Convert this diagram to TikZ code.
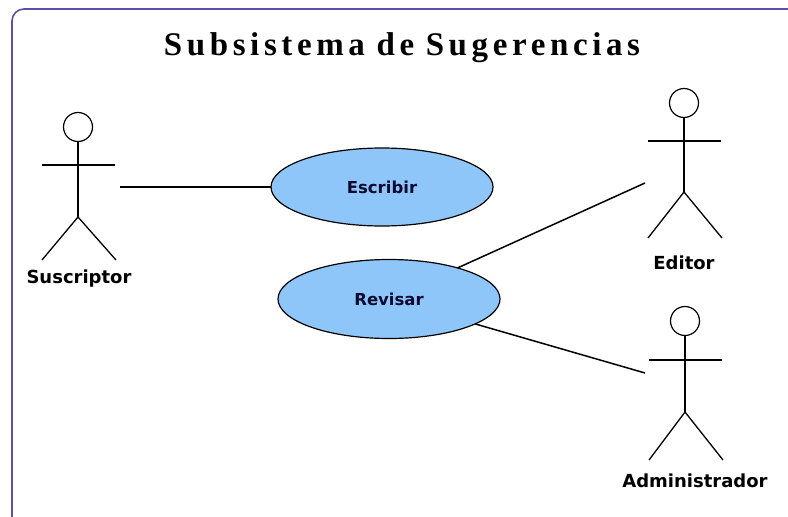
\documentclass[tikz,border=0pt]{standalone}
\usepackage{fontspec}
\setmainfont{DejaVu Sans}
\newfontfamily\titlefont[LetterSpace=14,WordSpace=0.9]{Liberation Serif}
\usetikzlibrary{
	shapes,
	calc}
\definecolor{framecolor}{HTML}{5B50A8}
\definecolor{usecasecolor}{HTML}{8FC6FA}
\definecolor{labelcolor}{HTML}{0A0A30}

\begin{document}
\begin{tikzpicture}[x=1pt,y=-1pt,every text node part/.style={align=center}]
		\tikzstyle{usecase}=[ellipse,draw,fill=usecasecolor,line width=1.2pt,
							inner sep=0pt, outer sep=0pt,text=labelcolor,
							font=\bfseries\fontsize{16.5}{18}\selectfont]
		\tikzstyle{head}=[circle,draw,line width=1.2pt,minimum size=29pt,
							inner sep=0pt, outer sep=0pt]
		\tikzstyle{caption}=[font=\bfseries\fontsize{18}{20}\selectfont,inner sep=0pt]
		\tikzstyle{limb}=[line width=1.3pt]
		\tikzstyle{link}=[line width=1.5pt]

		\useasboundingbox (0,0) rectangle (788,517);

		% frame
		\draw [framecolor,line width=1.6pt,rounded corners=12pt] (12,517) -- (12,9) -- (788,9);

		% title
		\node [inner sep=0pt,anchor=base] (title) at (402,55)
			{\titlefont\bfseries\fontsize{33}{36}\selectfont Subsistema de Sugerencias};

		% actors
		\foreach \name/\x/\yhead/\yarm/\yhip/\yfoot in {suscriptor/78/127/165/217/260, editor/684/103/141/192/238, administrador/685/321/360/412/460}{
			\node[head] (\name) at (\x,\yhead) {};
			\draw [limb] (\name) -- (\x,\yhip);
			\draw [limb] (\x-36,\yarm) -- (\x+37,\yarm);
			\draw [limb] (\x-36,\yfoot) -- (\x,\yhip) -- (\x+38,\yfoot);
		}

		% actor labels
		\node[caption] (suscriptorlabel) at (79,279) {Suscriptor};
		\node[caption] (editorlabel) at (684,263) {Editor};
		\node[caption] (administradorlabel) at (695,481) {Administrador};

		% use cases
		\node[usecase,minimum width=222pt,minimum height=78pt] (escribir) at (382,187) {Escribir};
		\node[usecase,minimum width=222pt,minimum height=79pt] (revisar) at (389,299) {Revisar};

		% free ends
		\coordinate (suscriptorend) at (120,187);
		\coordinate (editorend) at (645,183);
		\coordinate (administradorend) at (645,373);

		% edges
		\draw [link] (suscriptorend) -- (escribir);
		\draw [link] (revisar) -- (editorend);
		\draw [link] (revisar) -- (administradorend);

	\end{tikzpicture}
\end{document}
